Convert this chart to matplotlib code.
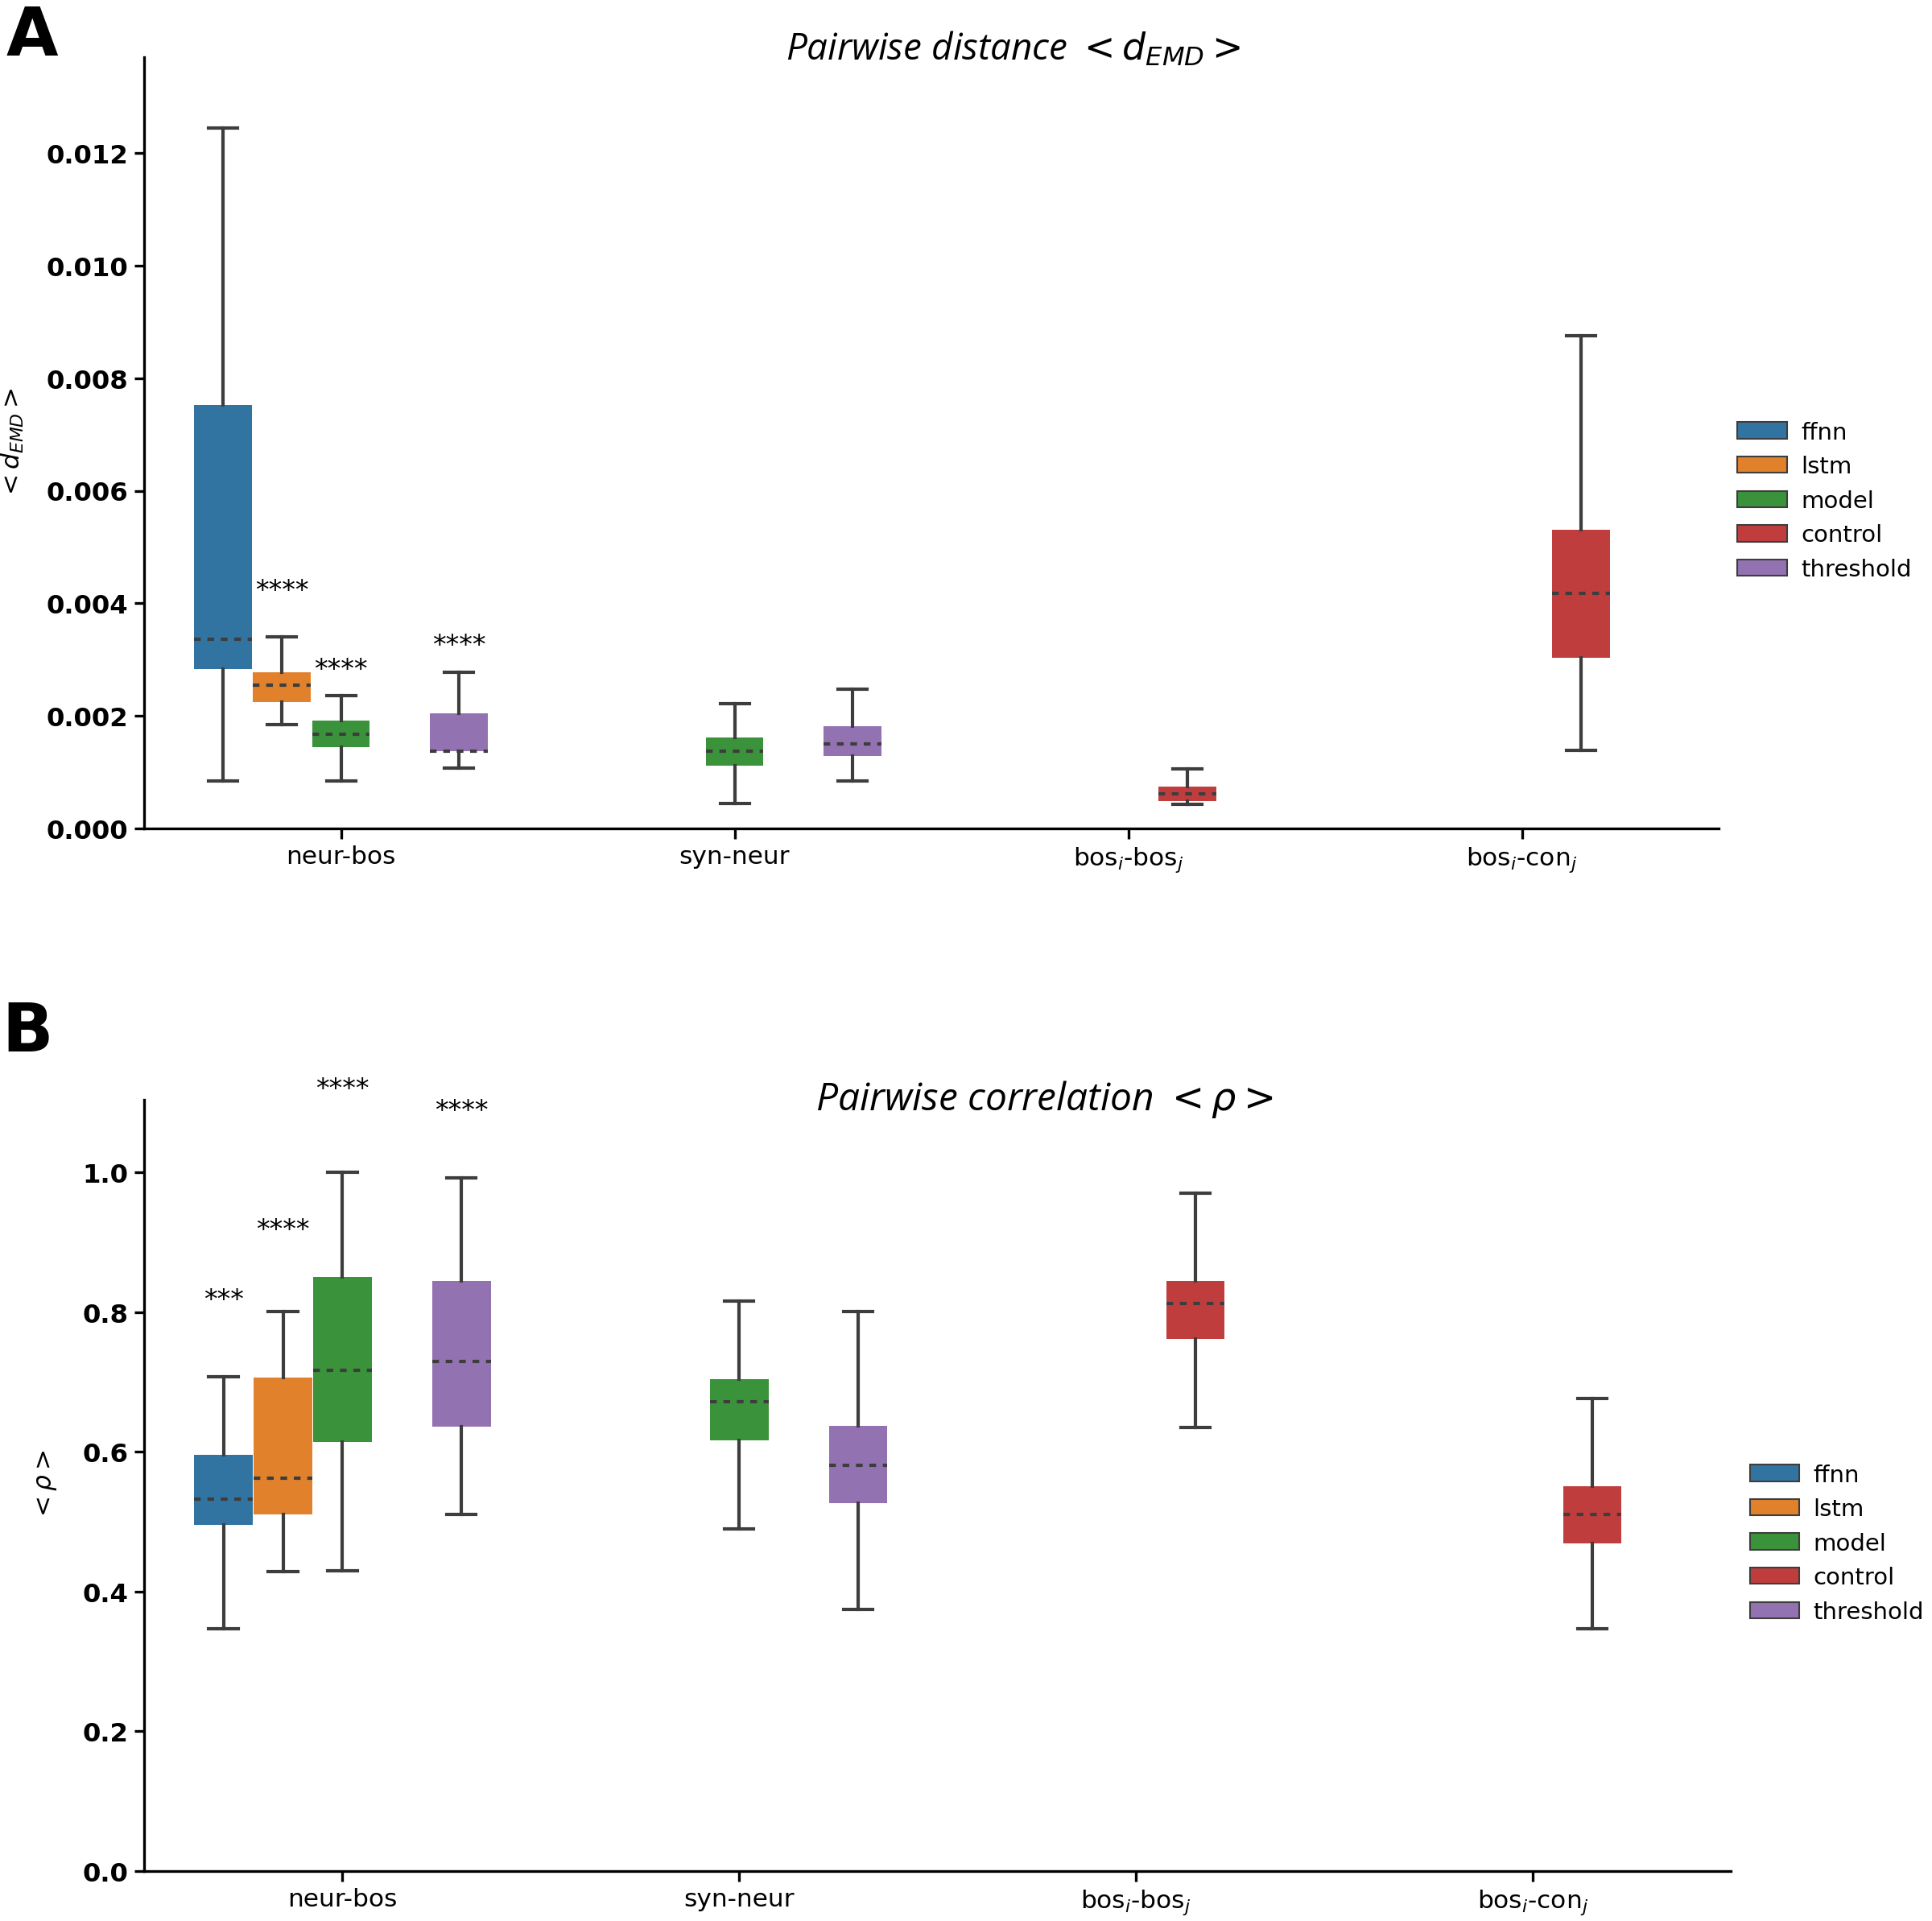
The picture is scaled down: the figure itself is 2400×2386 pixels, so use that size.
import numpy as np
import matplotlib
matplotlib.use("Agg")
import matplotlib.pyplot as plt
from matplotlib.patches import Patch

categories = ['neur-bos', 'syn-neur', r'bos$_i$-bos$_j$', r'bos$_i$-con$_j$']
hues = ['ffnn', 'lstm', 'model', 'control', 'threshold']
hue_colors = ['#3274a1', '#e1812c', '#3a923a', '#c03d3e', '#9372b2']

# panel A: pairwise distance, one entry per box
emd_cat = [0, 0, 0, 0, 1, 1, 2, 3]
emd_hue = [0, 1, 2, 4, 2, 4, 3, 3]
emd_lo = [0.00085, 0.00184, 0.00085, 0.00107, 0.00045, 0.00084, 0.00043, 0.00139]
emd_q1 = [0.00283, 0.00225, 0.00144, 0.00138, 0.00112, 0.00129, 0.00049, 0.00303]
emd_med = [0.00336, 0.00255, 0.00168, 0.00138, 0.00138, 0.00150, 0.00062, 0.00417]
emd_q3 = [0.00752, 0.00278, 0.00192, 0.00204, 0.00162, 0.00181, 0.00075, 0.00531]
emd_hi = [0.01244, 0.00341, 0.00236, 0.00278, 0.00221, 0.00248, 0.00106, 0.00876]
emd_stars = ['', '****', '****', '****', '', '', '', '']
emd_star_y = [0, 0.00423, 0.00283, 0.00325, 0, 0, 0, 0]

# panel B: pairwise correlation
rho_cat = [0, 0, 0, 0, 1, 1, 2, 3]
rho_hue = [0, 1, 2, 4, 2, 4, 3, 3]
rho_lo = [0.347, 0.429, 0.430, 0.511, 0.490, 0.374, 0.635, 0.347]
rho_q1 = [0.495, 0.510, 0.614, 0.636, 0.617, 0.527, 0.762, 0.469]
rho_med = [0.532, 0.562, 0.717, 0.729, 0.672, 0.581, 0.812, 0.510]
rho_q3 = [0.596, 0.706, 0.850, 0.845, 0.704, 0.637, 0.845, 0.551]
rho_hi = [0.708, 0.801, 1.000, 0.992, 0.816, 0.801, 0.970, 0.677]
rho_stars = ['***', '****', '****', '****', '', '', '', '']
rho_star_y = [0.818, 0.918, 1.119, 1.088, 0, 0, 0, 0]

plt.rcParams['font.family'] = 'DejaVu Sans'
plt.rcParams['mathtext.fontset'] = 'dejavusans'

fig = plt.figure(figsize=(16, 15.913), dpi=150)
axA = fig.add_axes([0.0746, 0.5685, 0.815, 0.4013])
axB = fig.add_axes([0.0746, 0.026, 0.8214, 0.4013])

line_c = '#3d3d3d'
hue_w = 0.15


def draw_panel(ax, cat, hue, lo, q1, med, q3, hi, stars, star_y):
    stats = []
    pos = []
    for i in range(len(cat)):
        stats.append(dict(whislo=lo[i], q1=q1[i], med=med[i], q3=q3[i], whishi=hi[i], fliers=[]))
        pos.append(cat[i] + (hue[i] - 2) * hue_w)
    bp = ax.bxp(stats, positions=pos, widths=hue_w * 0.98, patch_artist=True,
                showfliers=False, manage_ticks=False,
                boxprops=dict(linewidth=0),
                whiskerprops=dict(color=line_c, linewidth=2.0),
                capprops=dict(color=line_c, linewidth=2.0),
                medianprops=dict(color=line_c, linewidth=2.0, linestyle=(0, (2, 2))))
    for patch, h in zip(bp['boxes'], hue):
        patch.set_facecolor(hue_colors[h])
        patch.set_edgecolor(hue_colors[h])
    for i in range(len(cat)):
        if stars[i]:
            ax.text(pos[i], star_y[i], stars[i], ha='center', va='center',
                    fontsize=16, clip_on=False)
    ax.set_xlim(-0.5, 3.5)
    ax.set_xticks(range(len(categories)))
    ax.set_xticklabels(categories, fontsize=15)
    for s in ['top', 'right']:
        ax.spines[s].set_visible(False)
    for s in ['left', 'bottom']:
        ax.spines[s].set_linewidth(1.6)
    ax.tick_params(width=1.6, length=6)
    handles = [Patch(facecolor=c, edgecolor=line_c, linewidth=1) for c in hue_colors]
    ax.legend(handles, hues, loc='center left', bbox_to_anchor=(1.0, 0.425),
              frameon=False, fontsize=14, handlelength=2.1, handletextpad=0.6,
              borderaxespad=0.4)


draw_panel(axA, emd_cat, emd_hue, emd_lo, emd_q1, emd_med, emd_q3, emd_hi, emd_stars, emd_star_y)
axA.set_ylim(0, 0.0137)
ticksA = np.arange(0, 0.0121, 0.002)
axA.set_yticks(ticksA)
axA.set_yticklabels(['%.3f' % v for v in ticksA], fontweight='bold', fontsize=15.5)
axA.set_ylabel(r'$< d_{EMD} >$', fontsize=15, labelpad=12)
axA.text(0.552, 1.011, r'Pairwise distance $< d_{EMD} >$', transform=axA.transAxes,
         ha='center', va='center', fontsize=22, fontstyle='italic', family='Open Sans')

draw_panel(axB, rho_cat, rho_hue, rho_lo, rho_q1, rho_med, rho_q3, rho_hi, rho_stars, rho_star_y)
axB.set_ylim(0, 1.104)
ticksB = np.arange(0, 1.01, 0.2)
axB.set_yticks(ticksB)
axB.set_yticklabels(['%.1f' % v for v in ticksB], fontweight='bold', fontsize=15.5)
axB.set_ylabel(r'$<\rho>$', fontsize=15, labelpad=14)
axB.text(0.567, 1.002, r'Pairwise correlation $< \rho >$', transform=axB.transAxes,
         ha='center', va='center', fontsize=23, fontstyle='italic', family='Open Sans')

fig.text(0.003, 0.981, 'A', fontsize=40, fontweight='bold', va='center', ha='left')
fig.text(0.001, 0.4625, 'B', fontsize=40, fontweight='bold', va='center', ha='left')

fig.savefig('out.png', dpi=150)
